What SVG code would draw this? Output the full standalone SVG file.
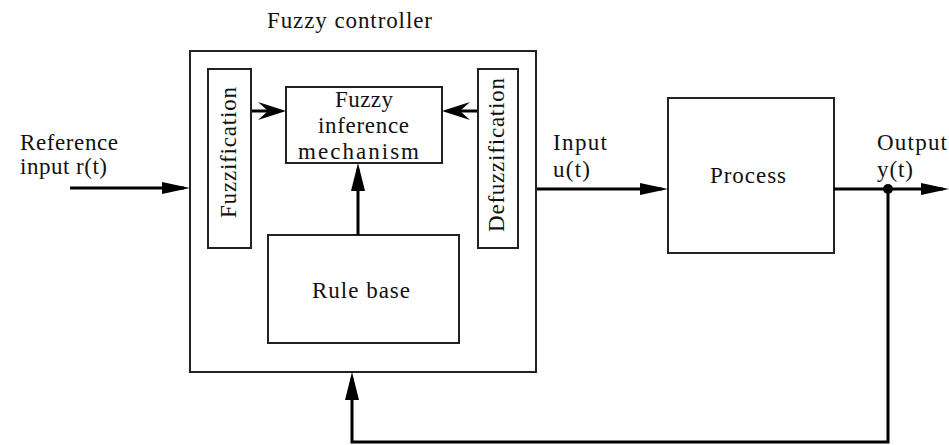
<svg xmlns="http://www.w3.org/2000/svg" width="949" height="445" viewBox="0 0 949 445">
<style>
text{font-family:'Liberation Serif','Times New Roman','DejaVu Serif',serif;font-size:23px;fill:#111}
.box{fill:#fff;stroke:#222;stroke-width:2}
.conn{fill:none;stroke:#000;stroke-width:3}
</style>
<defs>
<marker id="tri" markerUnits="userSpaceOnUse" markerWidth="28" markerHeight="12" viewBox="0 0 28 12" refX="22" refY="6" orient="auto"><path d="M0,0 L28,6 L0,12 z" fill="#000"/></marker>
<marker id="triv" markerUnits="userSpaceOnUse" markerWidth="28" markerHeight="14" viewBox="0 0 28 14" refX="22" refY="7" orient="auto"><path d="M0,0 L28,7 L0,14 z" fill="#000"/></marker>
<marker id="barb" markerUnits="userSpaceOnUse" markerWidth="28" markerHeight="18" viewBox="0 0 28 18" refX="22" refY="9" orient="auto"><path d="M0,0 L28,9 L0,18 L10,9 z" fill="#000"/></marker>
</defs>
<rect width="949" height="445" fill="#fff"/>
<g id="controller">
<rect class="box" x="190" y="51" width="346" height="321"/>
<text x="267" y="28" textLength="165">Fuzzy controller</text>
</g>
<g id="fuzzification">
<rect class="box" x="208" y="69" width="43" height="179"/>
<text transform="translate(236,218) rotate(-90)" textLength="131">Fuzzification</text>
</g>
<g id="defuzzification">
<rect class="box" x="478" y="69" width="40" height="179"/>
<text transform="translate(504,232) rotate(-90)" textLength="154">Defuzzification</text>
</g>
<g id="inference">
<rect class="box" x="286" y="87" width="156" height="76"/>
<text x="335" y="107" textLength="58">Fuzzy</text>
<text x="318" y="133" textLength="91">inference</text>
<text x="298" y="159" textLength="121">mechanism</text>
</g>
<g id="rulebase">
<rect class="box" x="268" y="235" width="191" height="108"/>
<text x="312" y="298" textLength="98">Rule base</text>
</g>
<g id="process">
<rect class="box" x="668" y="98" width="166" height="155"/>
<text x="710" y="183" textLength="76">Process</text>
</g>
<g id="labels">
<text x="20" y="150" textLength="98">Reference</text>
<text x="20" y="174" textLength="87">input r(t)</text>
<text x="553" y="150" textLength="54">Input</text>
<text x="553" y="177" textLength="37">u(t)</text>
<text x="877" y="150" textLength="70">Output</text>
<text x="877" y="177" textLength="36">y(t)</text>
</g>
<g id="connectors">
<path class="conn" d="M70,188 H184" marker-end="url(#tri)"/>
<path class="conn" d="M252,111 H280" marker-end="url(#barb)"/>
<path class="conn" d="M477,111 H448" marker-end="url(#barb)"/>
<path class="conn" d="M358,235 V169" marker-end="url(#triv)"/>
<path class="conn" d="M537,189 H662" marker-end="url(#tri)"/>
<path class="conn" d="M834,189 H943" marker-end="url(#tri)"/>
<path class="conn" d="M888,189 V442 H352 V378" marker-end="url(#triv)"/>
<circle cx="888" cy="189" r="5" fill="#000"/>
</g>
</svg>
